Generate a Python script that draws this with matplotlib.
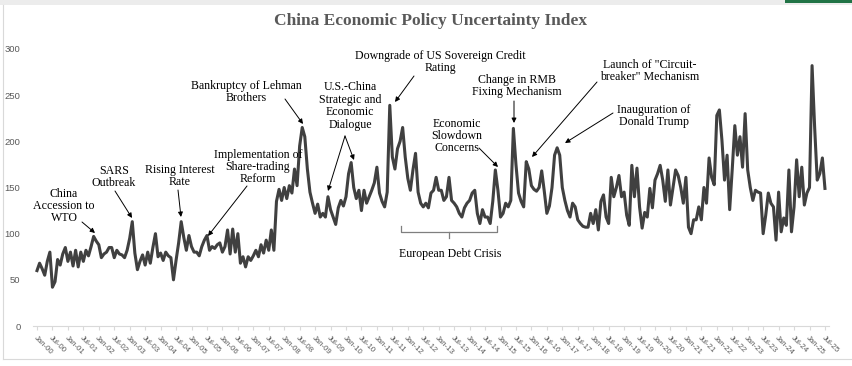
import matplotlib
matplotlib.use("Agg")
import matplotlib.pyplot as plt
from matplotlib.patches import Rectangle
from matplotlib.lines import Line2D

# ---------------- data (monthly, Jan-2000 .. Jul-2025) ----------------
epu_2000 = [60, 68, 62, 55, 70, 80, 42, 48, 72, 66, 78, 85]
epu_2001 = [70, 80, 65, 82, 64, 80, 70, 82, 76, 86, 97, 92]
epu_2002 = [88, 74, 78, 80, 85, 85, 74, 82, 78, 77, 74, 82]
epu_2003 = [95, 113, 79, 61, 70, 77, 66, 80, 68, 85, 100, 75]
epu_2004 = [79, 71, 80, 76, 74, 50, 71, 90, 113, 96, 82, 98]
epu_2005 = [86, 80, 80, 76, 86, 93, 98, 82, 86, 84, 88, 90]
epu_2006 = [80, 86, 104, 78, 105, 80, 100, 68, 75, 64, 75, 71]
epu_2007 = [76, 82, 75, 88, 79, 93, 82, 104, 82, 135, 148, 136]
epu_2008 = [150, 138, 152, 144, 170, 152, 195, 215, 205, 170, 145, 133]
epu_2009 = [122, 132, 118, 122, 118, 140, 126, 118, 110, 128, 136, 130]
epu_2010 = [140, 165, 177, 150, 138, 147, 125, 147, 133, 140, 147, 155]
epu_2011 = [172, 144, 135, 129, 145, 239, 183, 170, 192, 200, 215, 183]
epu_2012 = [160, 147, 169, 187, 145, 133, 129, 133, 128, 144, 147, 161]
epu_2013 = [147, 147, 136, 140, 161, 136, 133, 129, 122, 118, 128, 133]
epu_2014 = [136, 144, 147, 122, 111, 126, 118, 118, 111, 135, 169, 147]
epu_2015 = [118, 122, 133, 129, 136, 214, 175, 144, 135, 129, 178, 170]
epu_2016 = [152, 148, 146, 150, 168, 146, 122, 130, 150, 185, 193, 185]
epu_2017 = [150, 136, 125, 118, 133, 129, 115, 111, 108, 107, 107, 122]
epu_2018 = [111, 126, 104, 135, 142, 118, 111, 161, 140, 150, 163, 140]
epu_2019 = [145, 120, 109, 174, 140, 171, 129, 106, 123, 118, 149, 128]
epu_2020 = [158, 165, 174, 158, 135, 169, 131, 150, 169, 163, 150, 133]
epu_2021 = [161, 107, 100, 115, 115, 129, 115, 150, 133, 182, 161, 153]
epu_2022 = [228, 234, 201, 158, 185, 126, 170, 217, 185, 205, 172, 230]
epu_2023 = [169, 150, 136, 147, 145, 144, 100, 120, 144, 133, 129, 93]
epu_2024 = [145, 102, 117, 109, 169, 102, 129, 180, 140, 172, 131, 144]
epu_2025 = [150, 282, 215, 158, 165, 182, 149]

years = list(range(2000, 2026))
month_names = ["Jan", "Jul"]

epu = (epu_2000 + epu_2001 + epu_2002 + epu_2003 + epu_2004 + epu_2005 +
       epu_2006 + epu_2007 + epu_2008 + epu_2009 + epu_2010 + epu_2011 +
       epu_2012 + epu_2013 + epu_2014 + epu_2015 + epu_2016 + epu_2017 +
       epu_2018 + epu_2019 + epu_2020 + epu_2021 + epu_2022 + epu_2023 +
       epu_2024 + epu_2025)

tick_labels = [f"{m}-{y % 100:02d}" for y in years for m in month_names]
tick_pos = list(range(0, len(tick_labels) * 6, 6))

# ---------------- figure ----------------
W, H = 852, 366
fig = plt.figure(figsize=(W / 100, H / 100), dpi=100)
ax_left, ax_right, ax_top, ax_bot = 33, 829, 49, 326
ax = fig.add_axes([ax_left / W, (H - ax_bot) / H,
                   (ax_right - ax_left) / W, (ax_bot - ax_top) / H])

PX_PER_MONTH = 2.575
X0 = 37
PX_PER_UNIT = (ax_bot - ax_top) / 300.0

ax.plot(range(len(epu)), epu, color="#404040", lw=2.2, solid_joinstyle="round")

ax.set_xlim((ax_left - X0) / PX_PER_MONTH, (ax_right - X0) / PX_PER_MONTH)
ax.set_ylim(0, 300)

for s in ["top", "right", "left"]:
    ax.spines[s].set_visible(False)
ax.spines["bottom"].set_color("#d9d9d9")
ax.spines["bottom"].set_linewidth(0.8)

ax.set_yticks(range(0, 301, 50))
ax.tick_params(axis="y", length=0, pad=9, labelsize=6.8, labelcolor="#595959")
for t in ax.get_yticklabels():
    t.set_fontfamily("Liberation Sans")

ax.set_xticks(tick_pos)
ax.set_xticklabels(tick_labels, rotation=-45, ha="left", va="top",
                   rotation_mode="anchor", fontsize=5.6, color="#595959",
                   fontfamily="Liberation Sans")
ax.tick_params(axis="x", length=3, color="#d9d9d9", pad=3)


def d(px, py):
    """convert reference pixel position to data coordinates"""
    return ((px - X0) / PX_PER_MONTH, (ax_bot - py) / PX_PER_UNIT)


serif = "Liberation Serif"
afs = 8.6


def label(px, py, txt):
    ax.text(*d(px, py), txt, ha="center", va="center", fontsize=afs,
            fontfamily=serif, color="black", linespacing=1.05, clip_on=False)


def arrow(tail, tip):
    ax.annotate("", xy=d(*tip), xytext=d(*tail),
                arrowprops=dict(arrowstyle="-|>", color="black", lw=0.7,
                                mutation_scale=7, shrinkA=0, shrinkB=0),
                annotation_clip=False)


label(64, 206, "China\nAccession to\nWTO")
arrow((82, 222), (95, 233))

label(114, 177, "SARS\nOutbreak")
arrow((115, 191), (132, 218))

label(180, 176, "Rising Interest\nRate")
arrow((178, 190), (181, 217))

label(258, 167, "Implementation of\nShare-trading\nReform")
arrow((247, 186), (208, 236))

label(246, 92, "Bankruptcy of Lehman\nBrothers")
arrow((285, 99), (303, 124))

label(350, 106, "U.S.-China\nStrategic and\nEconomic\nDialogue")
arrow((345, 136), (328, 191))
arrow((345, 136), (354, 160))

label(440, 62, "Downgrade of US Sovereign Credit\nRating")
arrow((414, 76), (395, 102))

label(457, 136, "Economic\nSlowdown\nConcerns")
arrow((479, 148), (498, 167))

label(517, 86, "Change in RMB\nFixing Mechanism")
arrow((514, 101), (514, 123))

label(650, 71, "Launch of \"Circuit-\nbreaker\" Mechanism")
arrow((597, 82), (532, 157))

label(654, 116, "Inauguration of\nDonald Trump")
arrow((613, 113), (565, 143))

# European debt crisis bracket
bx0, by0 = d(401, 232)
bx1, _ = d(497, 232)
bmid, _ = d(449, 232)
_, ytop = d(0, 226)
_, ybot = d(0, 238)
bcol = "#7f7f7f"
ax.plot([bx0, bx0, bx1, bx1], [ytop, by0, by0, ytop], color=bcol, lw=0.9)
ax.plot([bmid, bmid], [by0, ybot], color=bcol, lw=0.9)
label(450, 254, "European Debt Crisis")

# title
fig.text(431 / W, 1 - 21 / H, "China Economic Policy Uncertainty Index",
         ha="center", va="center", fontsize=12.5, fontweight="bold",
         fontfamily=serif, color="#595959")

# spreadsheet frame artifacts
fig.patches.append(Rectangle((0, 1 - 5 / H), 1, 5 / H, transform=fig.transFigure,
                             facecolor="#ececec", edgecolor="none"))
fig.patches.append(Rectangle((785 / W, 1 - 3 / H), 67 / W, 3 / H,
                             transform=fig.transFigure, facecolor="#217346",
                             edgecolor="none"))
fig.lines.append(Line2D([3 / W, 3 / W], [1 - 359 / H, 1 - 5 / H],
                        transform=fig.transFigure, color="#d9d9d9", lw=0.8))
fig.lines.append(Line2D([3 / W, 1], [1 - 359 / H, 1 - 359 / H],
                        transform=fig.transFigure, color="#d9d9d9", lw=0.8))

fig.savefig("out.png", dpi=100, facecolor="white")
